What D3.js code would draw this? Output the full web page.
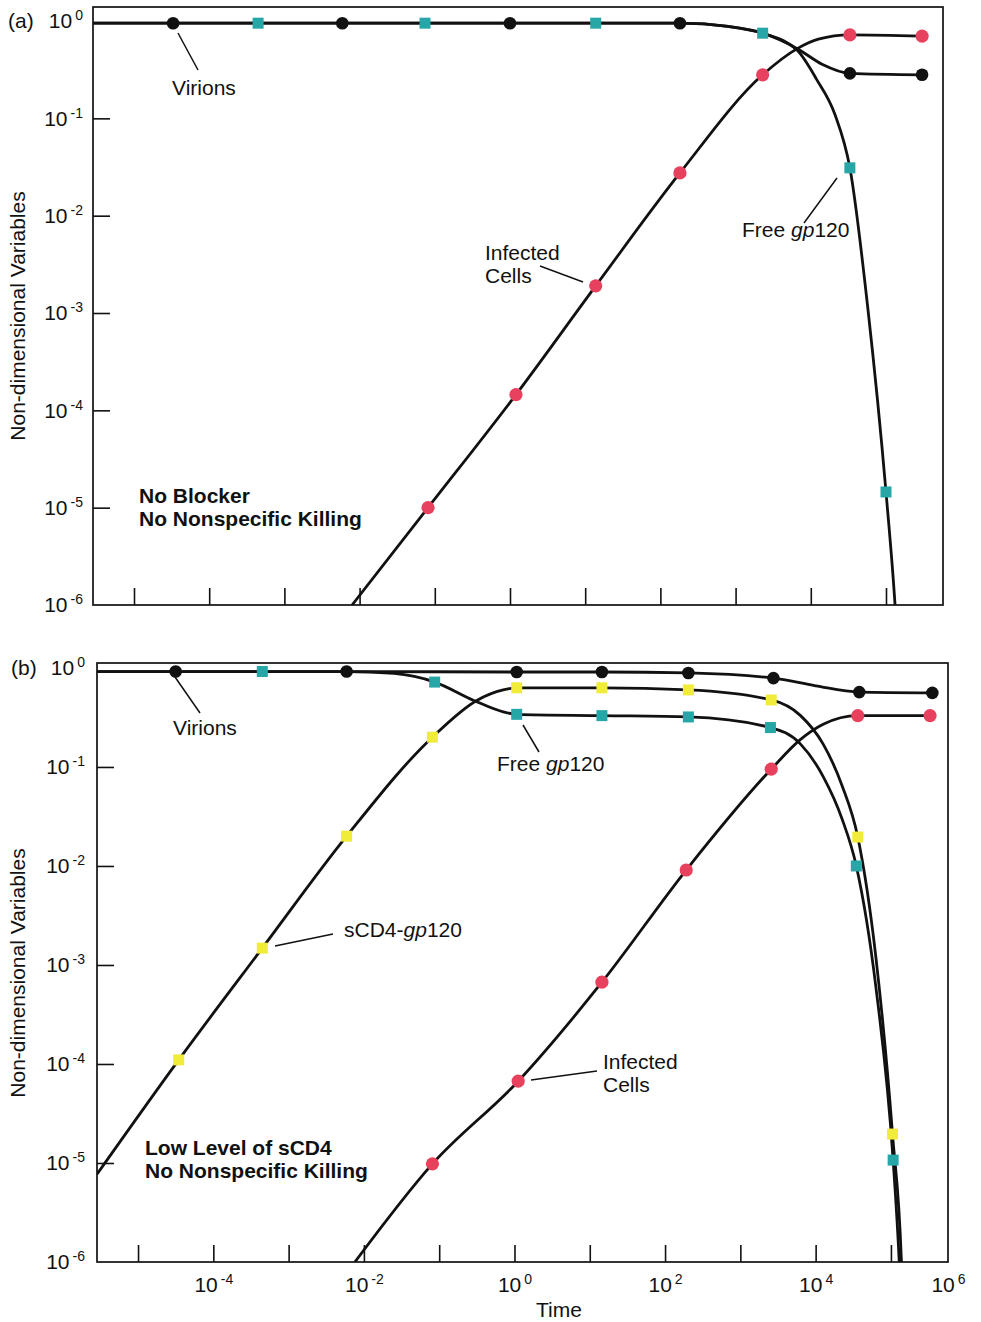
<!DOCTYPE html>
<html>
<head>
<meta charset="utf-8">
<script src="https://cdn.jsdelivr.net/npm/d3@7"></script>
<style>
  html, body { margin: 0; padding: 0; background: #fff; }
  svg { display: block; font-family: "Liberation Sans", Arial, Helvetica, sans-serif; }
</style>
</head>
<body>
<svg id="fig" width="981" height="1322"></svg>
<script>
// ---------- axes ----------
const xDomain = [2.85e-6, 5.73e5];
const xTickValues = [1e-5, 1e-4, 1e-3, 1e-2, 1e-1, 1, 1e1, 1e2, 1e3, 1e4, 1e5];
const xLabelValues = [1e-4, 1e-2, 1, 1e2, 1e4, 1e6];
const xLabelExps = ["-4", "-2", "0", "2", "4", "6"];
const yTickValues = [1e-5, 1e-4, 1e-3, 1e-2, 1e-1];
const yLabelValues = [1e-6, 1e-5, 1e-4, 1e-3, 1e-2, 1e-1, 1];
const yLabelExps = ["-6", "-5", "-4", "-3", "-2", "-1", "0"];

// ---------- (a) no blocker ----------
const aVirionsT = [2.85e-6, 3.31e-5, 5.89e-3, 1, 182, 794, 2290, 6610, 1.41e4, 3.31e4, 3.02e5];
const aVirionsV = [0.95, 0.95, 0.95, 0.95, 0.95, 0.88, 0.75, 0.52, 0.36, 0.29, 0.28];
const aVirionsMarks = [1, 2, 3, 4, 9, 10];

const aGp120T = [2.85e-6, 4.47e-4, 0.0741, 13.8, 182, 794, 2290, 6610, 1.2e4, 2.09e4, 3.31e4, 5.75e4, 1.0e5, 1.32e5, 1.45e5];
const aGp120V = [0.95, 0.95, 0.95, 0.95, 0.95, 0.88, 0.75, 0.50, 0.25, 0.11, 0.031, 1.1e-3, 1.45e-5, 1e-6, 3e-7];
const aGp120Marks = [1, 2, 3, 6, 10, 12];

const aInfectedT = [7.94e-3, 0.0813, 1.20, 13.8, 182, 2290, 6610, 1.26e4, 3.31e4, 3.02e5];
const aInfectedV = [1e-6, 1e-5, 1.45e-4, 1.9e-3, 0.0275, 0.28, 0.52, 0.65, 0.72, 0.70];
const aInfectedMarks = [1, 2, 3, 4, 5, 8, 9];

// ---------- (b) low level of sCD4 ----------
const bVirionsT = [2.85e-6, 3.16e-5, 5.89e-3, 1.07, 14.5, 204, 2750, 1.0e4, 3.80e4, 3.55e5];
const bVirionsV = [0.92, 0.92, 0.92, 0.91, 0.91, 0.89, 0.79, 0.66, 0.57, 0.56];
const bVirionsMarks = [1, 2, 3, 4, 5, 6, 8, 9];

const bGp120T = [2.85e-6, 4.47e-4, 5.89e-3, 0.0251, 0.0871, 0.288, 0.708, 1.07, 14.5, 204, 2510, 6310, 1.26e4, 2.24e4, 3.47e4, 6.31e4, 1.07e5, 1.29e5, 1.41e5];
const bGp120V = [0.92, 0.92, 0.92, 0.88, 0.72, 0.47, 0.36, 0.34, 0.33, 0.32, 0.25, 0.17, 0.08, 0.03, 0.01, 6e-4, 1.07e-5, 1e-6, 2e-7];
const bGp120Marks = [1, 4, 7, 8, 9, 10, 14, 16];

const bComplexT = [2.85e-6, 3.47e-5, 4.47e-4, 5.89e-3, 0.0813, 0.316, 0.708, 1.07, 14.5, 204, 2570, 6310, 1.26e4, 2.24e4, 3.63e4, 6.31e4, 1.05e5, 1.38e5, 1.48e5];
const bComplexV = [7.7e-6, 1.1e-4, 1.48e-3, 0.02, 0.2, 0.47, 0.6, 0.63, 0.63, 0.60, 0.475, 0.33, 0.17, 0.065, 0.0196, 1.2e-3, 1.96e-5, 1e-6, 2e-7];
const bComplexMarks = [1, 2, 3, 4, 7, 8, 9, 10, 14, 16];

const bInfectedT = [7.59e-3, 0.0813, 1.12, 14.5, 191, 2570, 6310, 1.26e4, 3.63e4, 3.31e5];
const bInfectedV = [1e-6, 9.8e-6, 6.7e-5, 6.7e-4, 9.1e-3, 0.095, 0.19, 0.27, 0.33, 0.33];
const bInfectedMarks = [1, 2, 3, 4, 5, 8, 9];

// ---------- styling ----------
const BLACK = "#111111", RED = "#e8415e", CYAN = "#27a6a7", YELLOW = "#f1ec3a";
const FONT = 21;

const panels = [
  {
    id: "a", tag: "(a)", tagPos: [8, 28],
    left: 93, right: 943, top: 7, bottom: 605, yMax: 1.393, labelPad: 10, titleY: 316,
    series: [
      { t: aInfectedT, v: aInfectedV, marks: aInfectedMarks, shape: "circle", color: RED },
      { t: aGp120T, v: aGp120V, marks: aGp120Marks, shape: "square", color: CYAN },
      { t: aVirionsT, v: aVirionsV, marks: aVirionsMarks, shape: "circle", color: BLACK }
    ],
    // annotation text and leader lines, offsets from the plot's top-left corner
    notes: [
      { lines: [[["Virions"]]], at: [79, 88], leader: [85, 26, 105, 63] },
      { lines: [[["Free "], ["gp", true], ["120"]]], at: [649, 230], leader: [744, 171, 711, 216] },
      { lines: [[["Infected"]], [["Cells"]]], at: [392, 253], leader: [447, 259, 490, 275] }
    ],
    cond: ["No Blocker", "No Nonspecific Killing"], condAt: [46, 496],
    xLabels: false
  },
  {
    id: "b", tag: "(b)", tagPos: [11, 675],
    left: 97, right: 948, top: 663, bottom: 1262, yMax: 1.122, labelPad: 12, titleY: 973,
    series: [
      { t: bInfectedT, v: bInfectedV, marks: bInfectedMarks, shape: "circle", color: RED },
      { t: bComplexT, v: bComplexV, marks: bComplexMarks, shape: "square", color: YELLOW },
      { t: bGp120T, v: bGp120V, marks: bGp120Marks, shape: "square", color: CYAN },
      { t: bVirionsT, v: bVirionsV, marks: bVirionsMarks, shape: "circle", color: BLACK }
    ],
    notes: [
      { lines: [[["Virions"]]], at: [76, 72], leader: [78, 14, 103, 50] },
      { lines: [[["Free "], ["gp", true], ["120"]]], at: [400, 108], leader: [426, 62, 442, 89] },
      { lines: [[["sCD4-"], ["gp", true], ["120"]]], at: [247, 274], leader: [178, 283, 236, 271] },
      { lines: [[["Infected"]], [["Cells"]]], at: [506, 406], leader: [434, 417, 500, 408] }
    ],
    cond: ["Low Level of sCD4", "No Nonspecific Killing"], condAt: [48, 492],
    xLabels: true
  }
];

const svg = d3.select("#fig");

// "10" with a raised exponent
function powerLabel(text, exp) {
  text.text(null)
    .attr("font-size", FONT)
    .attr("font-family", null)
    .attr("fill", BLACK);
  text.append("tspan").text("10");
  text.append("tspan").attr("dx", 3).attr("dy", -8).attr("font-size", 14).text(exp);
}

function cleanAxis(g) {
  g.attr("font-size", null).attr("font-family", null);
  g.select(".domain").remove();
  g.selectAll(".tick line").attr("stroke", BLACK).attr("stroke-width", 1.6);
}

panels.forEach(p => {
  const x = d3.scaleLog().domain(xDomain).range([p.left, p.right]);
  const y = d3.scaleLog().domain([1e-6, p.yMax]).range([p.bottom, p.top]);
  const g = svg.append("g").attr("class", "panel-" + p.id);

  svg.append("clipPath").attr("id", "clip-" + p.id)
    .append("rect")
    .attr("x", p.left).attr("y", p.top)
    .attr("width", p.right - p.left).attr("height", p.bottom - p.top);

  // plot frame
  g.append("rect")
    .attr("x", p.left).attr("y", p.top)
    .attr("width", p.right - p.left).attr("height", p.bottom - p.top)
    .attr("fill", "none").attr("stroke", BLACK).attr("stroke-width", 1.7);

  // inward tick marks
  g.append("g").attr("transform", `translate(0,${p.bottom})`)
    .call(d3.axisBottom(x).tickValues(xTickValues).tickSize(-17).tickFormat(() => ""))
    .call(cleanAxis);
  g.append("g").attr("transform", `translate(${p.left},0)`)
    .call(d3.axisLeft(y).tickValues(yTickValues).tickSize(-17).tickFormat(() => ""))
    .call(cleanAxis);

  // y tick labels
  const yl = g.append("g").attr("transform", `translate(${p.left},0)`)
    .call(d3.axisLeft(y).tickValues(yLabelValues).tickSize(0).tickPadding(p.labelPad).tickFormat(() => ""))
    .call(cleanAxis);
  yl.selectAll(".tick text").each(function (d) {
    powerLabel(d3.select(this), yLabelExps[yLabelValues.indexOf(d)]);
  });

  // x tick labels (the last one sits at the end of the axis)
  if (p.xLabels) {
    const xl = g.append("g").attr("transform", `translate(0,${p.bottom})`)
      .call(d3.axisBottom(x.copy().clamp(true)).tickValues(xLabelValues).tickSize(0).tickPadding(15).tickFormat(() => ""))
      .call(cleanAxis);
    xl.selectAll(".tick text").each(function (d) {
      powerLabel(d3.select(this), xLabelExps[xLabelValues.indexOf(d)]);
    });
    svg.append("text")
      .attr("x", 559).attr("y", 1317)
      .attr("text-anchor", "middle").attr("font-size", FONT).attr("fill", BLACK)
      .text("Time");
  }

  // y axis title
  svg.append("text")
    .attr("transform", `translate(25,${p.titleY}) rotate(-90)`)
    .attr("text-anchor", "middle").attr("font-size", FONT).attr("fill", BLACK)
    .text("Non-dimensional Variables");

  // panel tag
  svg.append("text")
    .attr("x", p.tagPos[0]).attr("y", p.tagPos[1])
    .attr("font-size", FONT).attr("fill", BLACK)
    .text(p.tag);

  // curves
  const line = d3.line()
    .x(d => x(d[0]))
    .y(d => y(d[1]))
    .curve(d3.curveMonotoneX);
  const curves = g.append("g").attr("clip-path", `url(#clip-${p.id})`);
  p.series.forEach(s => {
    curves.append("path")
      .datum(s.t.map((t, i) => [t, s.v[i]]))
      .attr("d", line)
      .attr("fill", "none").attr("stroke", BLACK)
      .attr("stroke-width", 2.8).attr("stroke-linejoin", "round");
  });

  // markers
  const marks = g.append("g");
  p.series.forEach(s => {
    const pts = s.marks.map(i => [s.t[i], s.v[i]]);
    if (s.shape === "circle") {
      marks.selectAll(null).data(pts).join("circle")
        .attr("cx", d => x(d[0])).attr("cy", d => y(d[1]))
        .attr("r", s.color === BLACK ? 6.3 : 6.6)
        .attr("fill", s.color);
    } else {
      marks.selectAll(null).data(pts).join("rect")
        .attr("x", d => x(d[0]) - 5.5).attr("y", d => y(d[1]) - 5.5)
        .attr("width", 11).attr("height", 11)
        .attr("fill", s.color);
    }
  });

  // annotations
  p.notes.forEach(n => {
    const [l1x, l1y, l2x, l2y] = n.leader;
    g.append("line")
      .attr("x1", p.left + l1x).attr("y1", p.top + l1y)
      .attr("x2", p.left + l2x).attr("y2", p.top + l2y)
      .attr("stroke", BLACK).attr("stroke-width", 1.5);
    n.lines.forEach((segs, li) => {
      const t = g.append("text")
        .attr("x", p.left + n.at[0]).attr("y", p.top + n.at[1] + li * 23)
        .attr("font-size", FONT).attr("fill", BLACK);
      segs.forEach(([str, ital]) => {
        t.append("tspan").attr("font-style", ital ? "italic" : null).text(str);
      });
    });
  });

  // scenario caption
  p.cond.forEach((str, i) => {
    g.append("text")
      .attr("x", p.left + p.condAt[0]).attr("y", p.top + p.condAt[1] + i * 23)
      .attr("font-size", FONT).attr("font-weight", "bold").attr("fill", BLACK)
      .text(str);
  });
});
</script>
</body>
</html>
